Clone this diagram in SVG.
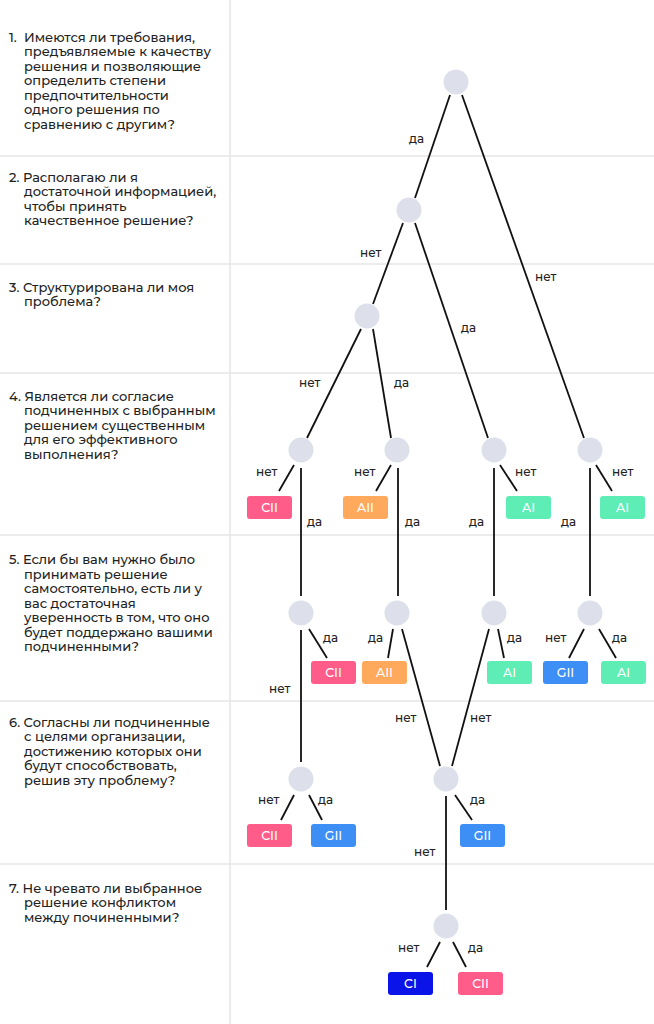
<svg xmlns="http://www.w3.org/2000/svg" width="654" height="1024" viewBox="0 0 654 1024">
<style>
.q{font-family:"Montserrat","Noto Sans","DejaVu Sans",sans-serif;font-size:13px;font-weight:500;fill:#222}
.l{font-family:"Montserrat","Noto Sans","DejaVu Sans",sans-serif;font-size:12px;font-weight:500;fill:#222}
.b{font-family:"Montserrat","Noto Sans","DejaVu Sans",sans-serif;font-size:12.5px;font-weight:500;fill:#fff;text-anchor:middle}
.g{stroke:#e6e6e8;stroke-width:1.5}
.c{fill:#dde0ea}
.e{stroke:#111;stroke-width:1.8;fill:none}
</style>
<rect width="654" height="1024" fill="#fff"/>
<g id="grid">
<line class="g" x1="230" y1="0" x2="230" y2="1024"/>
<line class="g" x1="0" y1="156" x2="654" y2="156"/>
<line class="g" x1="0" y1="264" x2="654" y2="264"/>
<line class="g" x1="0" y1="373" x2="654" y2="373"/>
<line class="g" x1="0" y1="535" x2="654" y2="535"/>
<line class="g" x1="0" y1="701" x2="654" y2="701"/>
<line class="g" x1="0" y1="864" x2="654" y2="864"/>
</g>
<g id="questions" class="q">
<text x="9" y="42">1.</text>
<text x="24" y="42">Имеются ли требования,</text>
<text x="24" y="56">предъявляемые к качеству</text>
<text x="24" y="71">решения и позволяющие</text>
<text x="24" y="85">определить степени</text>
<text x="24" y="100">предпочтительности</text>
<text x="24" y="114">одного решения по</text>
<text x="24" y="129">сравнению с другим?</text>
<text x="9" y="182">2. Располагаю ли я</text>
<text x="24" y="196">достаточной информацией,</text>
<text x="24" y="211">чтобы принять</text>
<text x="24" y="225">качественное решение?</text>
<text x="9" y="292">3. Структурирована ли моя</text>
<text x="24" y="306">проблема?</text>
<text x="9" y="401">4. Является ли согласие</text>
<text x="24" y="415">подчиненных с выбранным</text>
<text x="24" y="430">решением существенным</text>
<text x="24" y="444">для его эффективного</text>
<text x="24" y="459">выполнения?</text>
<text x="9" y="564">5. Если бы вам нужно было</text>
<text x="24" y="579">принимать решение</text>
<text x="24" y="593">самостоятельно, есть ли у</text>
<text x="24" y="608">вас достаточная</text>
<text x="24" y="622">уверенность в том, что оно</text>
<text x="24" y="637">будет поддержано вашими</text>
<text x="24" y="651">подчиненными?</text>
<text x="9" y="727">6. Согласны ли подчиненные</text>
<text x="24" y="741">с целями организации,</text>
<text x="24" y="756">достижению которых они</text>
<text x="24" y="770">будут способствовать,</text>
<text x="24" y="785">решив эту проблему?</text>
<text x="9" y="893">7. Не чревато ли выбранное</text>
<text x="24" y="907">решение конфликтом</text>
<text x="24" y="922">между починенными?</text>
</g>
<g id="connectors" class="e">
<line x1="450" y1="95" x2="415" y2="198"/>
<line x1="462" y1="95" x2="584" y2="438"/>
<line x1="403" y1="223" x2="373" y2="304"/>
<line x1="415" y1="223" x2="488" y2="438"/>
<line x1="361" y1="329" x2="307" y2="438"/>
<line x1="373" y1="329" x2="391" y2="438"/>
<line x1="294" y1="465" x2="279" y2="491"/>
<line x1="301" y1="468" x2="301" y2="596"/>
<line x1="391" y1="465" x2="376" y2="491"/>
<line x1="398" y1="468" x2="398" y2="596"/>
<line x1="500" y1="465" x2="517" y2="491"/>
<line x1="494" y1="468" x2="494" y2="596"/>
<line x1="596" y1="465" x2="612" y2="491"/>
<line x1="590" y1="468" x2="590" y2="596"/>
<line x1="309" y1="629" x2="327" y2="658"/>
<line x1="301" y1="630" x2="301" y2="762"/>
<line x1="393" y1="629" x2="388" y2="658"/>
<line x1="402" y1="629" x2="440" y2="766"/>
<line x1="489" y1="629" x2="452" y2="766"/>
<line x1="498" y1="629" x2="504" y2="658"/>
<line x1="584" y1="629" x2="569" y2="658"/>
<line x1="599" y1="629" x2="616" y2="658"/>
<line x1="294" y1="795" x2="281" y2="820"/>
<line x1="309" y1="795" x2="322" y2="820"/>
<line x1="446" y1="796" x2="446" y2="910"/>
<line x1="455" y1="795" x2="472" y2="820"/>
<line x1="440" y1="942" x2="427" y2="967"/>
<line x1="453" y1="942" x2="466" y2="967"/>
</g>
<g id="edge-labels" class="l">
<text x="409" y="143">да</text>
<text x="535" y="281">нет</text>
<text x="360" y="257">нет</text>
<text x="461" y="332">да</text>
<text x="299" y="387">нет</text>
<text x="394" y="387">да</text>
<text x="256" y="476">нет</text>
<text x="307" y="526">да</text>
<text x="354" y="476">нет</text>
<text x="405" y="526">да</text>
<text x="515" y="476">нет</text>
<text x="469" y="526">да</text>
<text x="612" y="476">нет</text>
<text x="561" y="526">да</text>
<text x="323" y="642">да</text>
<text x="269" y="693">нет</text>
<text x="368" y="642">да</text>
<text x="395" y="722">нет</text>
<text x="507" y="642">да</text>
<text x="470" y="722">нет</text>
<text x="545" y="642">нет</text>
<text x="612" y="642">да</text>
<text x="258" y="804">нет</text>
<text x="318" y="804">да</text>
<text x="414" y="856">нет</text>
<text x="470" y="804">да</text>
<text x="398" y="952">нет</text>
<text x="468" y="952">да</text>
</g>
<g id="n1"><circle class="c" cx="456" cy="82" r="12.5"/></g>
<g id="n2"><circle class="c" cx="409" cy="210" r="12.5"/></g>
<g id="n3"><circle class="c" cx="367" cy="316" r="12.5"/></g>
<g id="n4a"><circle class="c" cx="301" cy="450" r="12.5"/></g>
<g id="n4b"><circle class="c" cx="397" cy="450" r="12.5"/></g>
<g id="n4c"><circle class="c" cx="494" cy="450" r="12.5"/></g>
<g id="n4d"><circle class="c" cx="590" cy="450" r="12.5"/></g>
<g id="n5a"><circle class="c" cx="301" cy="613" r="12.5"/></g>
<g id="n5b"><circle class="c" cx="397" cy="613" r="12.5"/></g>
<g id="n5c"><circle class="c" cx="494" cy="613" r="12.5"/></g>
<g id="n5d"><circle class="c" cx="590" cy="613" r="12.5"/></g>
<g id="n6a"><circle class="c" cx="301" cy="779" r="12.5"/></g>
<g id="n6b"><circle class="c" cx="446" cy="779" r="12.5"/></g>
<g id="n7"><circle class="c" cx="446" cy="926" r="12.5"/></g>
<g id="r4a"><rect x="247" y="496" width="45" height="23" rx="3" fill="#ff5c8a"/><text class="b" x="269.5" y="512">CII</text></g>
<g id="r4b"><rect x="343" y="496" width="45" height="23" rx="3" fill="#ffa95c"/><text class="b" x="365.5" y="512">AII</text></g>
<g id="r4c"><rect x="506" y="496" width="45" height="23" rx="3" fill="#5eedb5"/><text class="b" x="528.5" y="512">AI</text></g>
<g id="r4d"><rect x="600" y="496" width="45" height="23" rx="3" fill="#5eedb5"/><text class="b" x="622.5" y="512">AI</text></g>
<g id="r5a"><rect x="311" y="661" width="45" height="23" rx="3" fill="#ff5c8a"/><text class="b" x="333.5" y="677">CII</text></g>
<g id="r5b"><rect x="362" y="661" width="45" height="23" rx="3" fill="#ffa95c"/><text class="b" x="384.5" y="677">AII</text></g>
<g id="r5c"><rect x="487" y="661" width="45" height="23" rx="3" fill="#5eedb5"/><text class="b" x="509.5" y="677">AI</text></g>
<g id="r5d"><rect x="543" y="661" width="45" height="23" rx="3" fill="#3d8ef5"/><text class="b" x="565.5" y="677">GII</text></g>
<g id="r5e"><rect x="601" y="661" width="45" height="23" rx="3" fill="#5eedb5"/><text class="b" x="623.5" y="677">AI</text></g>
<g id="r6a"><rect x="247" y="824" width="45" height="23" rx="3" fill="#ff5c8a"/><text class="b" x="269.5" y="840">CII</text></g>
<g id="r6b"><rect x="311" y="824" width="45" height="23" rx="3" fill="#3d8ef5"/><text class="b" x="333.5" y="840">GII</text></g>
<g id="r6c"><rect x="460" y="824" width="45" height="23" rx="3" fill="#3d8ef5"/><text class="b" x="482.5" y="840">GII</text></g>
<g id="r7a"><rect x="388" y="972" width="45" height="23" rx="3" fill="#0a14e8"/><text class="b" x="410.5" y="988">CI</text></g>
<g id="r7b"><rect x="458" y="972" width="45" height="23" rx="3" fill="#ff5c8a"/><text class="b" x="480.5" y="988">CII</text></g>
</svg>
